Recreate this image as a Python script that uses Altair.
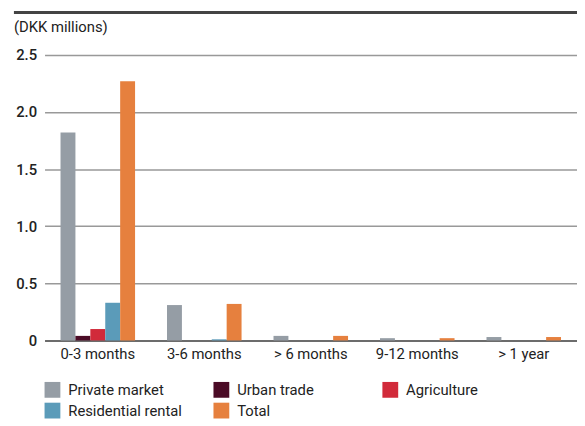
import altair as alt
import pandas as pd

categories = ["0-3 months", "3-6 months", "> 6 months", "9-12 months", "> 1 year"]
series = ["Private market", "Urban trade", "Agriculture", "Residential rental", "Total"]
private_market = [1.82, 0.31, 0.04, 0.02, 0.03]
urban_trade = [0.04, 0.0, 0.0, 0.0, 0.0]
agriculture = [0.10, 0.0, 0.0, 0.0, 0.0]
residential_rental = [0.33, 0.01, 0.0, 0.0, 0.0]
total = [2.27, 0.32, 0.04, 0.02, 0.03]
colors = ["#959da5", "#4b0b26", "#d12a3a", "#5b9bb9", "#e6803e"]
y_ticks = [0, 0.5, 1.0, 1.5, 2.0, 2.5]

rows = []
for name, vals in zip(series, [private_market, urban_trade, agriculture, residential_rental, total]):
    for c, v in zip(categories, vals):
        rows.append({"category": c, "series": name, "value": v})
df = pd.DataFrame(rows)

FONT = "Roboto"

bars = alt.Chart(df).mark_bar().encode(
    x=alt.X("category:N", sort=categories, title=None,
            scale=alt.Scale(paddingInner=0.3, paddingOuter=0.15),
            axis=alt.Axis(labelAngle=0, ticks=False, domain=True, domainColor="#555",
                          domainWidth=1.5, labelFontSize=15, labelColor="#222",
                          labelPadding=6, labelFont=FONT, grid=False)),
    xOffset=alt.XOffset("series:N", sort=series),
    y=alt.Y("value:Q", title=None,
            scale=alt.Scale(domain=[0, 2.5], nice=False),
            axis=alt.Axis(values=y_ticks,
                          labelExpr="datum.value == 0 ? '0' : format(datum.value, '.1f')",
                          ticks=False, domain=False, grid=True, gridColor="#999",
                          gridWidth=1.5, labelFontSize=15, labelFontWeight=500,
                          labelColor="#222", labelPadding=8, labelFont=FONT)),
    color=alt.Color("series:N", sort=series,
                    scale=alt.Scale(domain=series, range=colors),
                    legend=alt.Legend(title=None, orient="none", legendX=0, legendY=331,
                                      columns=3, symbolType="square", symbolSize=256,
                                      symbolStrokeWidth=0, labelFontSize=15,
                                      labelFont=FONT, labelColor="#222",
                                      gridAlign="all",
                                      columnPadding=31, rowPadding=5,
                                      labelOffset=8, direction="horizontal")),
)

title_df = pd.DataFrame({"t": ["(DKK millions)"]})
title = alt.Chart(title_df).mark_text(align="left", baseline="alphabetic",
                                      fontSize=15, font=FONT, color="#222").encode(
    text="t:N", x=alt.value(-31), y=alt.value(-23))

top_rule = alt.Chart(title_df).mark_rule(color="#444", strokeWidth=3).encode(
    x=alt.value(-31), x2=alt.value(540), y=alt.value(-43))

chart = alt.layer(bars, title, top_rule).properties(
    width=539, height=289,
    autosize=alt.AutoSizeParams(type="none"),
    padding={"left": 37, "top": 45, "right": 0, "bottom": 80},
).configure_view(stroke=None)

chart.save("out.html", embed_options={"renderer": "svg", "actions": False})
